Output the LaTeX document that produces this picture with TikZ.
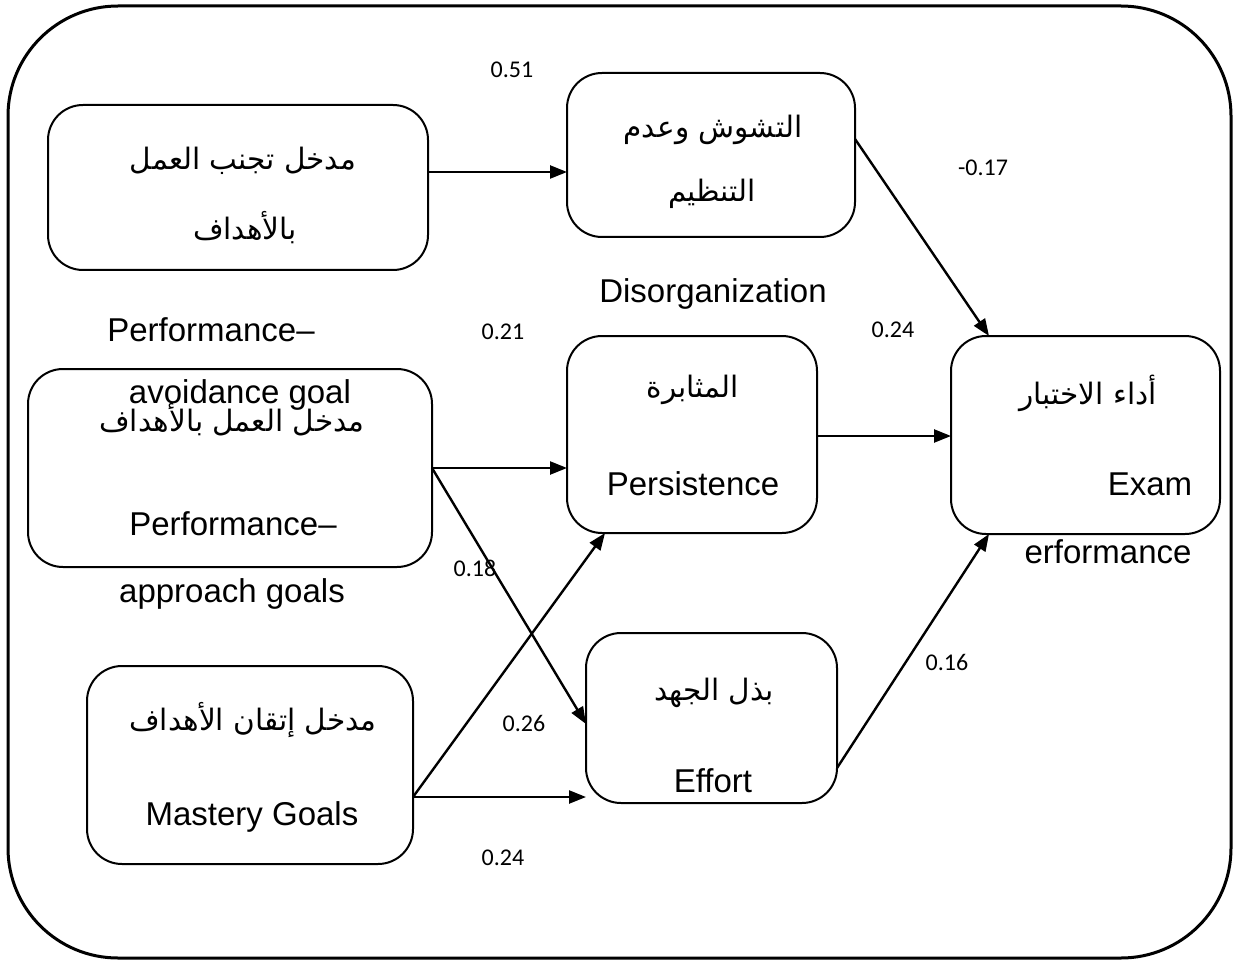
\documentclass[tikz,border=0pt]{standalone}
\usepackage{fontspec}
\setmainfont{Liberation Sans}
\newfontfamily\arabicfont[Script=Arabic]{DejaVu Sans}
\newfontfamily\numfont{Carlito}
\TeXXeTstate=1
\usetikzlibrary{arrows.meta}

\begin{document}
\begin{tikzpicture}[x=1pt,y=-1pt,
  box/.style={draw, line width=2pt, rounded corners=35pt, inner sep=0pt, outer sep=0pt},
  lat/.style={font=\fontsize{33}{38}\selectfont, inner sep=0pt, anchor=base},
  ar/.style={font=\arabicfont\fontsize{29.5}{35}\selectfont, inner sep=0pt, anchor=base},
  coef/.style={font=\numfont\fontsize{24}{28}\selectfont, inner sep=0pt},
  link/.style={line width=2.4pt, -{Triangle[length=17pt,width=13pt]}}]
\useasboundingbox (0,0) rectangle (1238,965);

% outer frame
\draw[line width=3pt, rounded corners=110pt] (8,6) rectangle (1231,958);

% boxes
\node[box, minimum width=380pt, minimum height=165pt] (avoid)    at (238,187.5) {};
\node[box, minimum width=288pt, minimum height=164pt] (disorg)   at (711,155)   {};
\node[box, minimum width=404pt, minimum height=198pt] (approach) at (230,468)   {};
\node[box, minimum width=250pt, minimum height=197pt] (persist)  at (692,434.5) {};
\node[box, minimum width=269pt, minimum height=198pt] (exam)     at (1085.5,435){};
\node[box, minimum width=326pt, minimum height=198pt] (mastery)  at (250,765)   {};
\node[box, minimum width=251pt, minimum height=170pt] (effort)   at (711.5,718) {};

% texts: performance-avoidance
\node[ar] (avoidA1) at (243,170) {\beginR مدخل تجنب العمل\endR};
\node[ar] (avoidA2) at (245,240) {\beginR بالأهداف\endR};
\node[lat] (avoidE1) at (211,341) {Performance–};
\node[lat] (avoidE2) at (240,403) {avoidance goal};

% disorganization
\node[ar] (disA1) at (713,138) {\beginR التشوش وعدم\endR};
\node[ar] (disA2) at (712,202) {\beginR التنظيم\endR};
\node[lat] (disE) at (713,302) {Disorganization};

% performance-approach
\node[ar] (appA) at (232,431) {\beginR مدخل العمل بالأهداف\endR};
\node[lat] (appE1) at (233,535) {Performance–};
\node[lat] (appE2) at (232,602) {approach goals};

% persistence
\node[ar] (perA) at (693,397) {\beginR المثابرة\endR};
\node[lat] (perE) at (693,495) {Persistence};

% exam performance
\node[ar] (exA) at (1088,404) {\beginR أداء الاختبار\endR};
\node[lat] (exE1) at (1150,495) {Exam};
\node[lat] (exE2) at (1108,563) {erformance};

% mastery
\node[ar] (masA) at (253,730) {\beginR مدخل إتقان الأهداف\endR};
\node[lat] (masE) at (252,825) {Mastery Goals};

% effort
\node[ar] (effA) at (714,700) {\beginR بذل الجهد\endR};
\node[lat] (effE) at (713,792) {Effort};

% path coefficients
\node[coef] (c1) at (512,70)  {0.51};
\node[coef] (c2) at (983,168) {-0.17};
\node[coef] (c3) at (503,332) {0.21};
\node[coef] (c4) at (893,330) {0.24};
\node[coef] (c5) at (475,568) {0.18};
\node[coef] (c6) at (524,723) {0.26};
\node[coef] (c7) at (947,662) {0.16};
\node[coef] (c8) at (503,858) {0.24};

% connectors
\draw[link] ([yshift=15.5pt]avoid.east) coordinate (s1) -- (s1 -| disorg.west);
\draw[link] ([yshift=16pt]disorg.east) -- ([xshift=-96.5pt]exam.north);
\draw[link] (approach.east) -- (approach.east -| persist.west);
\draw[link] (approach.east) -- ([yshift=-6pt]effort.west);
\draw[link] ([yshift=-32pt]mastery.east) -- ([xshift=-87pt]persist.south);
\draw[link] ([yshift=-32pt]mastery.east) coordinate (s2) -- (s2 -| effort.west);
\draw[link] ([yshift=-1.5pt]persist.east) coordinate (s3) -- (s3 -| exam.west);
\draw[link] ([yshift=-50pt]effort.east) -- ([xshift=-96.5pt]exam.south);
\end{tikzpicture}
\end{document}
